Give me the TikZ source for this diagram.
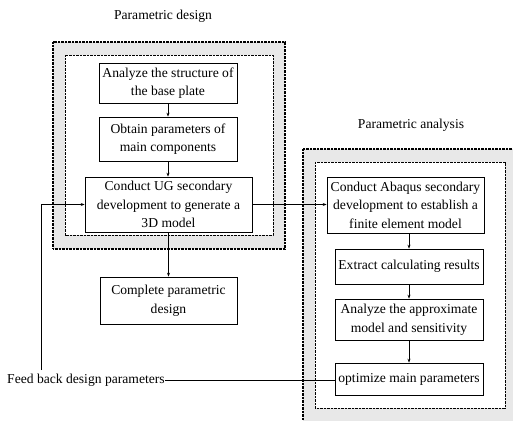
\documentclass[tikz,border=0pt]{standalone}
\usepackage{fontspec}
\setmainfont{Liberation Serif}
\usetikzlibrary{arrows.meta}
\begin{document}
\begin{tikzpicture}[x=1pt,y=-1pt,
 box/.style={draw,fill=white,line width=0.7pt,align=center,font=\fontsize{13.6}{18.5}\selectfont,inner sep=0pt},
 outerpanel/.style={draw,fill=gray!18,line width=1.4pt,dash pattern=on 1pt off 0.4pt},
 innerpanel/.style={draw,fill=white,line width=1pt,dash pattern=on 1pt off 0.4pt},
 arr/.style={-{Stealth[length=4pt,width=3pt]},line width=0.7pt},
 ln/.style={line width=0.7pt},
 lbl/.style={font=\fontsize{13.6}{16}\selectfont,inner sep=0pt}]
\useasboundingbox (0,0) rectangle (513,420);
\path[outerpanel] (53,42) rectangle (285,249);
\path[innerpanel] (65,55) rectangle (273,235);
\path[outerpanel] (303,149) rectangle (520,428);
\path[innerpanel] (315,162) rectangle (505,408);
\node[lbl] (t1) at (163,16) {Parametric design};
\node[lbl] (t2) at (411,125) {Parametric analysis};
\node[box,minimum width=138pt,minimum height=40pt] (a1) at (168,83) {Analyze the structure of\\the base plate};
\node[box,minimum width=138pt,minimum height=44pt] (a2) at (168,139) {Obtain parameters of\\main components};
\node[box,minimum width=167pt,minimum height=55pt] (a3) at (168.5,204.5) {Conduct UG secondary\\development to generate a\\3D model};
\node[box,minimum width=137pt,minimum height=47pt] (a4) at (168.5,300.5) {Complete parametric\\design};
\node[box,minimum width=157pt,minimum height=56pt] (b1) at (405.5,205) {Conduct Abaqus secondary\\development to establish a\\finite element model};
\node[box,minimum width=148pt,minimum height=35pt] (b2) at (409,266.5) {Extract calculating results};
\node[box,minimum width=148pt,minimum height=41pt] (b3) at (409,319.5) {Analyze the approximate\\model and sensitivity};
\node[box,minimum width=148pt,minimum height=32pt] (b4) at (409,379) {optimize main parameters};
\node[lbl,anchor=west] (fb) at (7,380) {Feed back design parameters};
\coordinate (fbc) at (41,370);
\draw[arr] (a1.south) -- (a2.north);
\draw[arr] (a2.south) -- (a2.south |- a3.north);
\draw[arr] (a3.south) -- (a3.south |- a4.north);
\draw[arr] (a3.east) -- (a3.east -| b1.west);
\draw[arr] (b2.north |- b1.south) -- (b2.north);
\draw[arr] (b2.south) -- (b3.north);
\draw[arr] (b3.south) -- (b4.north);
\draw[ln] (fb.east) -- (fb.east -| b4.west);
\draw[arr] (fbc) |- (a3.west);
\end{tikzpicture}
\end{document}
